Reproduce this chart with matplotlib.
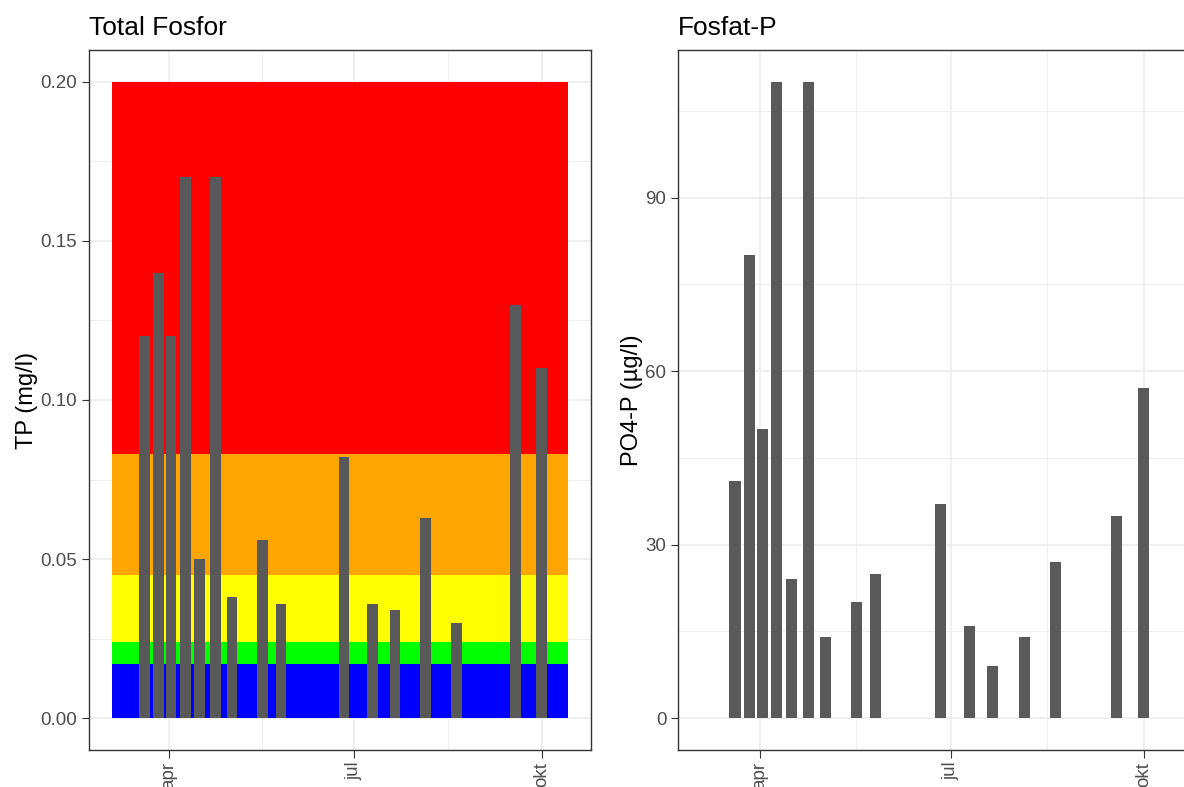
import pandas as pd
import matplotlib
matplotlib.use("Agg")
import matplotlib.pyplot as plt
import matplotlib.dates as mdates
from matplotlib.ticker import FixedLocator

plt.rcParams['font.family'] = ['Liberation Sans', 'DejaVu Sans']

# sampling dates (same stations/dates for both parameters)
sample_dates = ["2021-03-20", "2021-03-27", "2021-04-02", "2021-04-09",
                "2021-04-16", "2021-04-24", "2021-05-02", "2021-05-17",
                "2021-05-26", "2021-06-26", "2021-07-10", "2021-07-21",
                "2021-08-05", "2021-08-20", "2021-09-18", "2021-10-01"]
tp_mgl = [0.12, 0.14, 0.12, 0.17, 0.05, 0.17, 0.038, 0.056,
          0.036, 0.082, 0.036, 0.034, 0.063, 0.030, 0.13, 0.11]
po4_ugl = [41, 80, 50, 110, 24, 110, 14, 20,
           25, 37, 16, 9, 14, 27, 35, 57]

# tilstandsklasser for TP (mg/l)
class_limits = [0.0, 0.017, 0.024, 0.045, 0.083, 0.20]
class_colours = ["#0000FF", "#00FF00", "#FFFF00", "#FFA500", "#FF0000"]
band_start = "2021-03-04"
band_end = "2021-10-14"

month_ticks = ["2021-04-01", "2021-07-01", "2021-10-01"]
month_labels = ["apr", "jul", "okt"]

tp_ticks = [0.0, 0.05, 0.10, 0.15, 0.20]
tp_labels = ["0.00", "0.05", "0.10", "0.15", "0.20"]
po4_ticks = [0, 30, 60, 90]

BAR_COL = "#595959"
GRID_COL = "#EBEBEB"
FRAME_COL = "#333333"
TICK_TXT = "#4D4D4D"

x = mdates.date2num(pd.to_datetime(sample_dates))
b0 = mdates.date2num(pd.Timestamp(band_start))
b1 = mdates.date2num(pd.Timestamp(band_end))
span = b1 - b0
xlim = (b0 - 0.05 * span, b1 + 0.05 * span)
major_x = mdates.date2num(pd.to_datetime(month_ticks))
minor_x = [(a + b) / 2 for a, b in zip(major_x[:-1], major_x[1:])]


def style_axis(ax, yticks, ylabels, ylim, ylabel, title):
    ax.set_xlim(*xlim)
    ax.set_ylim(*ylim)
    ax.xaxis.set_major_locator(FixedLocator(major_x))
    ax.xaxis.set_minor_locator(FixedLocator(minor_x))
    ax.set_xticklabels(month_labels, rotation=90, va="top", ha="center")
    ax.yaxis.set_major_locator(FixedLocator(yticks))
    ax.yaxis.set_minor_locator(FixedLocator(
        [(a + b) / 2 for a, b in zip(yticks[:-1], yticks[1:])] +
        [yticks[-1] + (yticks[1] - yticks[0]) / 2]))
    ax.set_yticklabels(ylabels)
    ax.set_axisbelow(True)
    ax.grid(which="major", color=GRID_COL, linewidth=1.1, zorder=0)
    ax.grid(which="minor", color=GRID_COL, linewidth=0.6, zorder=0)
    ax.tick_params(which="major", length=5.4, width=0.8, color=FRAME_COL,
                   labelcolor=TICK_TXT, labelsize=13.5, pad=3)
    ax.tick_params(which="minor", length=0)
    for s in ax.spines.values():
        s.set_color(FRAME_COL)
        s.set_linewidth(1.0)
    ax.set_ylabel(ylabel, fontsize=17, labelpad=2)
    ax.set_title(title, loc="left", fontsize=19, pad=11)


fig = plt.figure(figsize=(11.84, 7.87), dpi=100)
W, H = 1184, 787
ax1 = fig.add_axes([89 / W, 1 - 750 / H, 502 / W, 700 / H])
ax2 = fig.add_axes([678 / W, 1 - 750 / H, 516.5 / W, 700 / H])

# fargebånd for klassene
for lo, hi, col in zip(class_limits[:-1], class_limits[1:], class_colours):
    ax1.bar(b0, hi - lo, width=span, bottom=lo, align="edge",
            color=col, linewidth=0, zorder=1)
ax1.bar(x, tp_mgl, width=5.3, color=BAR_COL, linewidth=0, zorder=2)
style_axis(ax1, tp_ticks, tp_labels, (-0.01, 0.21), "TP (mg/l)", "Total Fosfor")

ax2.bar(x, po4_ugl, width=5.3, color=BAR_COL, linewidth=0, zorder=2)
style_axis(ax2, po4_ticks, [str(t) for t in po4_ticks], (-5.5, 115.5),
           "PO4-P (µg/l)", "Fosfat-P")

fig.savefig("out.png", dpi=100)
